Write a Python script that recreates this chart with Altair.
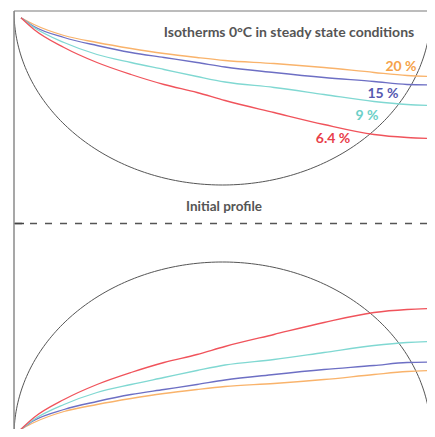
import numpy as np
import pandas as pd
import altair as alt

# Isotherm x positions (distance units) and heights above the mid (initial profile) line
iso_x = [7, 20, 50, 83, 117, 150, 183, 211, 260, 310, 360, 393, 421]
iso_20 = [205.7, 199, 188, 181, 175, 170, 166, 163, 160, 156, 151, 148, 147]
iso_15 = [205.7, 197, 186, 178, 171, 166, 161, 156.5, 151, 146, 142, 139, 138.5]
iso_9 = [205.7, 196, 181, 169, 161, 154, 147, 141.5, 136, 129, 122, 119, 118]
iso_64 = [205.7, 194, 176, 161, 149, 139, 131, 123, 111, 99, 89, 86, 85]

series_names = ["20 %", "15 %", "9 %", "6.4 %"]
series_vals = [iso_20, iso_15, iso_9, iso_64]
line_colors = ["#f9b36b", "#6d6fc4", "#80d8d2", "#f0535b"]
text_colors = ["#f5a24a", "#5558b0", "#6ccfc7", "#e8404a"]

# label positions for series
label_x = [387, 369, 353, 319]
label_y = [157, 130, 108, 85]

# semicircle (initial profile) geometry
circ_cx = 208.5
circ_rx = 208.5
circ_ry = 174
y_top = 212.5
y_frame_bot = -212.5
y_view_bot = -205.5
x_max = 413

rows = []
for name, vals in zip(series_names, series_vals):
    for xv, yv in zip(iso_x, vals):
        rows.append({"series": name, "panel": "top", "x": xv, "y": yv})
        rows.append({"series": name, "panel": "bottom", "x": xv, "y": -yv})
iso_df = pd.DataFrame(rows)

t = np.linspace(np.pi, 0, 181)
arc_rows = []
for ti in t:
    xv = circ_cx + circ_rx * np.cos(ti)
    arc_rows.append({"panel": "top", "x": xv, "y": y_top - circ_ry * np.sin(ti)})
    arc_rows.append({"panel": "bottom", "x": xv, "y": y_frame_bot + circ_ry * np.sin(ti)})
arc_df = pd.DataFrame(arc_rows)

lab_df = pd.DataFrame({"series": series_names, "x": label_x, "y": label_y})
title_df = pd.DataFrame({"text": ["Isotherms 0°C in steady state conditions", "Initial profile"],
                         "x": [275, 210], "y": [191, 17], "size": [14, 13.5]})
mid_df = pd.DataFrame({"x": [0], "x2": [x_max], "y": [0]})
tick_df = pd.DataFrame({"x": [0], "x2": [10], "y": [0]})

W, H = 413, 418
xs = alt.Scale(domain=[0, x_max], nice=False, zero=False)
ys = alt.Scale(domain=[y_view_bot, y_top], nice=False, zero=False)
cscale = alt.Scale(domain=series_names, range=line_colors)
tscale = alt.Scale(domain=series_names, range=text_colors)

X = alt.X("x:Q", scale=xs, axis=None)
Y = alt.Y("y:Q", scale=ys, axis=None)

arcs = alt.Chart(arc_df).mark_line(color="#555555", strokeWidth=1, clip=True).encode(
    x=X, y=Y, detail="panel:N",
)

lines = alt.Chart(iso_df).mark_line(strokeWidth=1.3, clip=True, interpolate="monotone").encode(
    x=X, y=Y,
    color=alt.Color("series:N", scale=cscale, legend=None),
    detail="panel:N",
)

mid = alt.Chart(mid_df).mark_rule(color="#555555", strokeWidth=1.3, strokeDash=[7, 8], strokeDashOffset=-1).encode(
    x=X, x2="x2:Q", y=Y
)
tick = alt.Chart(tick_df).mark_rule(color="#444444", strokeWidth=1.5).encode(
    x=X, x2="x2:Q", y=Y
)

top_rule = alt.Chart(mid_df).mark_rule(color="#7a7a7a", strokeWidth=1.2).encode(
    x=alt.value(0), x2=alt.value(W), y=alt.value(0)
)
left_rule = alt.Chart(mid_df).mark_rule(color="#8a8a8a", strokeWidth=1.5).encode(
    x=alt.value(0), y=alt.value(0), y2=alt.value(H)
)

labels = alt.Chart(lab_df).mark_text(font="Lato", fontSize=14, fontWeight="bold").encode(
    x=X, y=Y,
    text="series:N",
    color=alt.Color("series:N", scale=tscale, legend=None),
)

titles = alt.Chart(title_df).mark_text(font="Lato", fontWeight="bold", color="#555555").encode(
    x=X, y=Y,
    text="text:N",
    size=alt.Size("size:Q", scale=None, legend=None),
)

chart = alt.layer(
    arcs, lines, mid, tick, top_rule, left_rule, labels, titles
).resolve_scale(color="independent").properties(
    width=W, height=H,
    autosize=alt.AutoSizeParams(type="none"),
    padding={"left": 6, "top": 3, "right": 0, "bottom": 0},
    background="white",
).configure_view(stroke=None)

chart.save("out.html", embed_options={"renderer": "svg", "actions": False})
